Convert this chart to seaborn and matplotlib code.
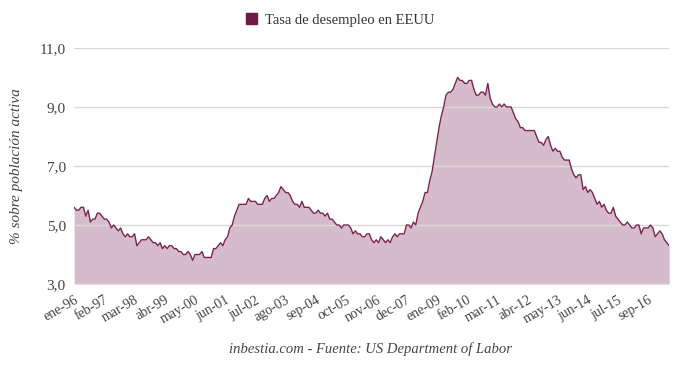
import numpy as np
import pandas as pd
import seaborn as sns
import matplotlib
matplotlib.use("Agg")
import matplotlib.pyplot as plt
from matplotlib.patches import Patch

# tasa de desempleo mensual EEUU, ene-1996 .. may-2017
y1996 = [5.6, 5.5, 5.5, 5.6, 5.6, 5.3, 5.5, 5.1, 5.2, 5.2, 5.4, 5.4]
y1997 = [5.3, 5.2, 5.2, 5.1, 4.9, 5.0, 4.9, 4.8, 4.9, 4.7, 4.6, 4.7]
y1998 = [4.6, 4.6, 4.7, 4.3, 4.4, 4.5, 4.5, 4.5, 4.6, 4.5, 4.4, 4.4]
y1999 = [4.3, 4.4, 4.2, 4.3, 4.2, 4.3, 4.3, 4.2, 4.2, 4.1, 4.1, 4.0]
y2000 = [4.0, 4.1, 4.0, 3.8, 4.0, 4.0, 4.0, 4.1, 3.9, 3.9, 3.9, 3.9]
y2001 = [4.2, 4.2, 4.3, 4.4, 4.3, 4.5, 4.6, 4.9, 5.0, 5.3, 5.5, 5.7]
y2002 = [5.7, 5.7, 5.7, 5.9, 5.8, 5.8, 5.8, 5.7, 5.7, 5.7, 5.9, 6.0]
y2003 = [5.8, 5.9, 5.9, 6.0, 6.1, 6.3, 6.2, 6.1, 6.1, 6.0, 5.8, 5.7]
y2004 = [5.7, 5.6, 5.8, 5.6, 5.6, 5.6, 5.5, 5.4, 5.4, 5.5, 5.4, 5.4]
y2005 = [5.3, 5.4, 5.2, 5.2, 5.1, 5.0, 5.0, 4.9, 5.0, 5.0, 5.0, 4.9]
y2006 = [4.7, 4.8, 4.7, 4.7, 4.6, 4.6, 4.7, 4.7, 4.5, 4.4, 4.5, 4.4]
y2007 = [4.6, 4.5, 4.4, 4.5, 4.4, 4.6, 4.7, 4.6, 4.7, 4.7, 4.7, 5.0]
y2008 = [5.0, 4.9, 5.1, 5.0, 5.4, 5.6, 5.8, 6.1, 6.1, 6.5, 6.8, 7.3]
y2009 = [7.8, 8.3, 8.7, 9.0, 9.4, 9.5, 9.5, 9.6, 9.8, 10.0, 9.9, 9.9]
y2010 = [9.8, 9.8, 9.9, 9.9, 9.6, 9.4, 9.4, 9.5, 9.5, 9.4, 9.8, 9.3]
y2011 = [9.1, 9.0, 9.0, 9.1, 9.0, 9.1, 9.0, 9.0, 9.0, 8.8, 8.6, 8.5]
y2012 = [8.3, 8.3, 8.2, 8.2, 8.2, 8.2, 8.2, 8.0, 7.8, 7.8, 7.7, 7.9]
y2013 = [8.0, 7.7, 7.5, 7.6, 7.5, 7.5, 7.3, 7.2, 7.2, 7.2, 6.9, 6.7]
y2014 = [6.6, 6.7, 6.7, 6.2, 6.3, 6.1, 6.2, 6.1, 5.9, 5.7, 5.8, 5.6]
y2015 = [5.7, 5.5, 5.4, 5.4, 5.6, 5.3, 5.2, 5.1, 5.0, 5.0, 5.1, 5.0]
y2016 = [4.9, 4.9, 5.0, 5.0, 4.7, 4.9, 4.9, 4.9, 5.0, 4.9, 4.6, 4.7]
y2017 = [4.8, 4.7, 4.5, 4.4, 4.3]

rate = (y1996 + y1997 + y1998 + y1999 + y2000 + y2001 + y2002 + y2003 + y2004
        + y2005 + y2006 + y2007 + y2008 + y2009 + y2010 + y2011 + y2012
        + y2013 + y2014 + y2015 + y2016 + y2017)

tick_labels = ["ene-96", "feb-97", "mar-98", "abr-99", "may-00", "jun-01",
               "jul-02", "ago-03", "sep-04", "oct-05", "nov-06", "dec-07",
               "ene-09", "feb-10", "mar-11", "abr-12", "may-13", "jun-14",
               "jul-15", "sep-16"]
y_ticks = [3.0, 5.0, 7.0, 9.0, 11.0]

df = pd.DataFrame({"mes": np.arange(len(rate)), "tasa": rate})

sns.set_theme(style="white")
plt.rcParams["font.family"] = ["Liberation Serif", "DejaVu Serif"]

line_col = "#7a2450"
grid_col = "#d9d9d9"

fig = plt.figure(figsize=(6.8, 3.66), dpi=100)
ax = fig.add_axes([0.109, 0.224, 0.875, 0.645])

for t in y_ticks:
    ax.axhline(t, color=grid_col, lw=1, zorder=3)
ax.fill_between(df["mes"], 3.0, df["tasa"], color=line_col, alpha=0.3, lw=0, zorder=2)
sns.lineplot(data=df, x="mes", y="tasa", color=line_col, lw=1, ax=ax, zorder=4)

ax.set_xlim(0, len(rate) - 1)
ax.set_ylim(3.0, 11.0)
ax.set_yticks(y_ticks)
ax.set_yticklabels([f"{t:.1f}".replace(".", ",") for t in y_ticks],
                   fontsize=11, color="#444444")
ax.set_xticks(np.arange(0, len(rate), 13)[:len(tick_labels)])
ax.set_xticklabels(tick_labels, rotation=30, ha="right", rotation_mode="anchor",
                   fontsize=10, color="#444444")
ax.tick_params(axis="x", length=0, pad=7)
ax.tick_params(axis="y", length=0, pad=6)
for s in ax.spines.values():
    s.set_visible(False)
ax.set_xlabel("")
ax.set_ylabel("% sobre población activa", fontstyle="italic", fontsize=11,
              color="#444444", labelpad=12)

fig.legend(handles=[Patch(color="#6e1a44", label="Tasa de desempleo en EEUU")],
           loc="center", bbox_to_anchor=(0.5, 0.945), frameon=False,
           fontsize=10.5, handlelength=0.75, handleheight=0.75, handletextpad=0.55,
           labelcolor="#333333")
fig.text(0.545, 0.046, "inbestia.com - Fuente: US Department of Labor",
         ha="center", va="center", fontstyle="italic", fontsize=10.5, color="#444444")

fig.savefig("out.png", dpi=100)
